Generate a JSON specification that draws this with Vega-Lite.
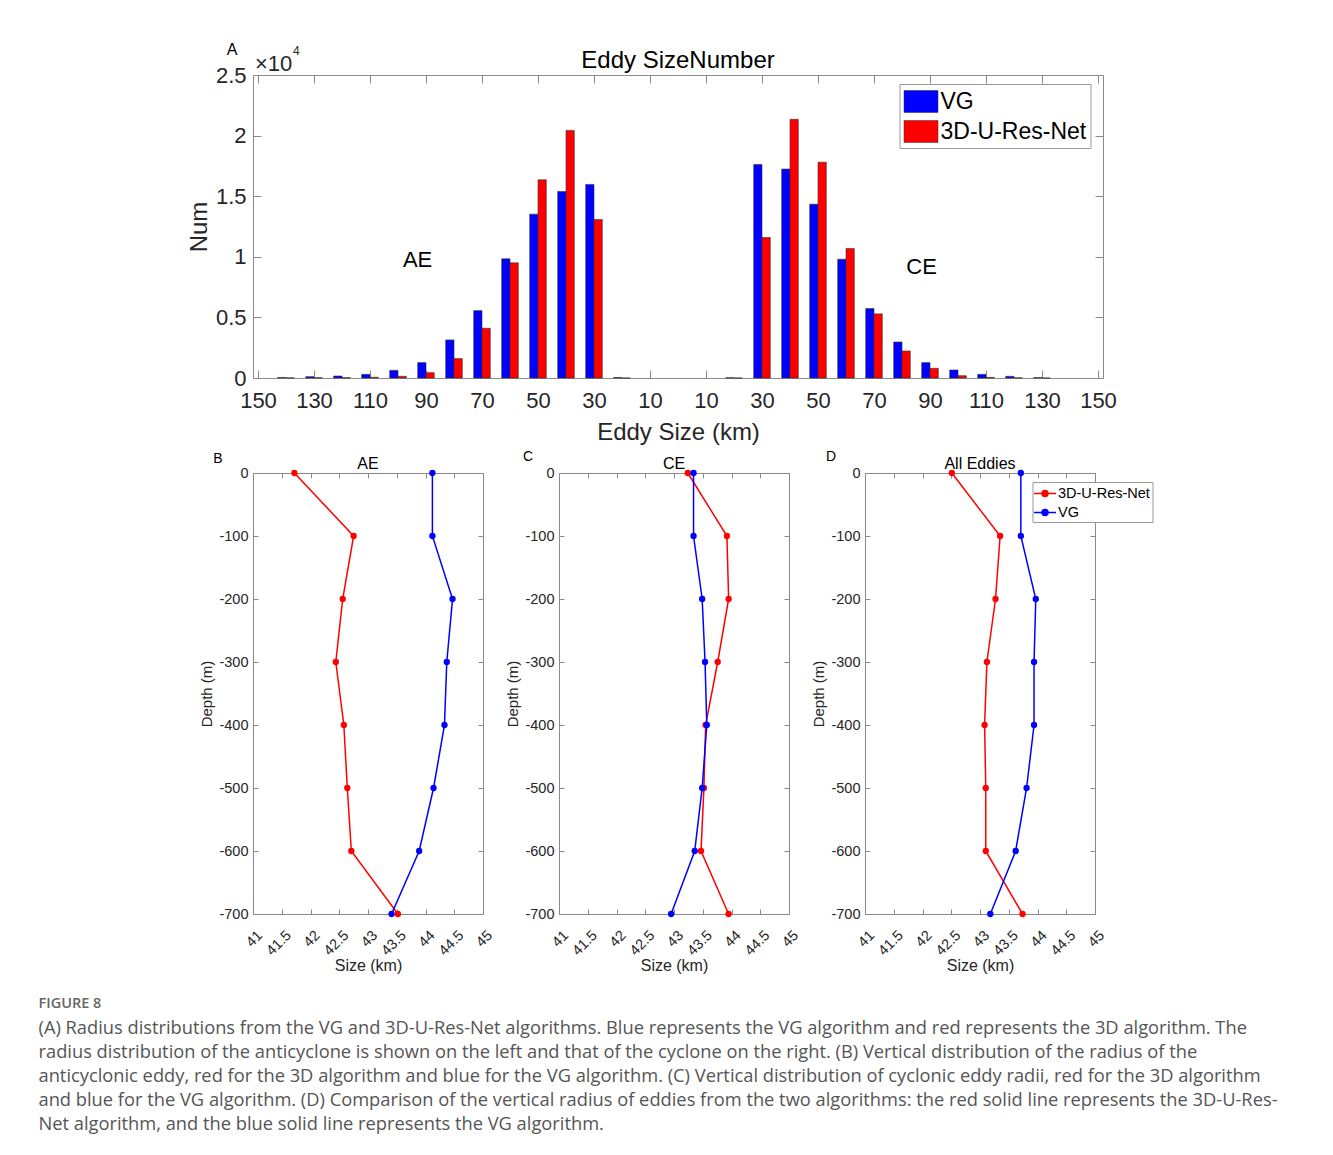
{
  "$schema": "https://vega.github.io/schema/vega-lite/v6.json",
  "padding": {"left": 38, "top": 41, "right": 5, "bottom": 5},
  "background": "white",
  "datasets": {
    "bars": [
      {"type": "AE", "size": -140, "alg": "VG", "num": 40},
      {"type": "AE", "size": -140, "alg": "3D-U-Res-Net", "num": 10},
      {"type": "AE", "size": -130, "alg": "VG", "num": 110},
      {"type": "AE", "size": -130, "alg": "3D-U-Res-Net", "num": 20},
      {"type": "AE", "size": -120, "alg": "VG", "num": 165},
      {"type": "AE", "size": -120, "alg": "3D-U-Res-Net", "num": 30},
      {"type": "AE", "size": -110, "alg": "VG", "num": 300},
      {"type": "AE", "size": -110, "alg": "3D-U-Res-Net", "num": 60},
      {"type": "AE", "size": -100, "alg": "VG", "num": 630},
      {"type": "AE", "size": -100, "alg": "3D-U-Res-Net", "num": 140},
      {"type": "AE", "size": -90, "alg": "VG", "num": 1270},
      {"type": "AE", "size": -90, "alg": "3D-U-Res-Net", "num": 440},
      {"type": "AE", "size": -80, "alg": "VG", "num": 3140},
      {"type": "AE", "size": -80, "alg": "3D-U-Res-Net", "num": 1600},
      {"type": "AE", "size": -70, "alg": "VG", "num": 5560},
      {"type": "AE", "size": -70, "alg": "3D-U-Res-Net", "num": 4100},
      {"type": "AE", "size": -60, "alg": "VG", "num": 9830},
      {"type": "AE", "size": -60, "alg": "3D-U-Res-Net", "num": 9500},
      {"type": "AE", "size": -50, "alg": "VG", "num": 13520},
      {"type": "AE", "size": -50, "alg": "3D-U-Res-Net", "num": 16350},
      {"type": "AE", "size": -40, "alg": "VG", "num": 15390},
      {"type": "AE", "size": -40, "alg": "3D-U-Res-Net", "num": 20430},
      {"type": "AE", "size": -30, "alg": "VG", "num": 15970},
      {"type": "AE", "size": -30, "alg": "3D-U-Res-Net", "num": 13080},
      {"type": "AE", "size": -20, "alg": "VG", "num": 40},
      {"type": "AE", "size": -20, "alg": "3D-U-Res-Net", "num": 0},
      {"type": "CE", "size": 20, "alg": "VG", "num": 20},
      {"type": "CE", "size": 20, "alg": "3D-U-Res-Net", "num": 0},
      {"type": "CE", "size": 30, "alg": "VG", "num": 17620},
      {"type": "CE", "size": 30, "alg": "3D-U-Res-Net", "num": 11590},
      {"type": "CE", "size": 40, "alg": "VG", "num": 17240},
      {"type": "CE", "size": 40, "alg": "3D-U-Res-Net", "num": 21340},
      {"type": "CE", "size": 50, "alg": "VG", "num": 14340},
      {"type": "CE", "size": 50, "alg": "3D-U-Res-Net", "num": 17810},
      {"type": "CE", "size": 60, "alg": "VG", "num": 9800},
      {"type": "CE", "size": 60, "alg": "3D-U-Res-Net", "num": 10680},
      {"type": "CE", "size": 70, "alg": "VG", "num": 5730},
      {"type": "CE", "size": 70, "alg": "3D-U-Res-Net", "num": 5290},
      {"type": "CE", "size": 80, "alg": "VG", "num": 2970},
      {"type": "CE", "size": 80, "alg": "3D-U-Res-Net", "num": 2230},
      {"type": "CE", "size": 90, "alg": "VG", "num": 1270},
      {"type": "CE", "size": 90, "alg": "3D-U-Res-Net", "num": 800},
      {"type": "CE", "size": 100, "alg": "VG", "num": 660},
      {"type": "CE", "size": 100, "alg": "3D-U-Res-Net", "num": 190},
      {"type": "CE", "size": 110, "alg": "VG", "num": 300},
      {"type": "CE", "size": 110, "alg": "3D-U-Res-Net", "num": 50},
      {"type": "CE", "size": 120, "alg": "VG", "num": 140},
      {"type": "CE", "size": 120, "alg": "3D-U-Res-Net", "num": 15},
      {"type": "CE", "size": 130, "alg": "VG", "num": 30},
      {"type": "CE", "size": 130, "alg": "3D-U-Res-Net", "num": 0}
    ],
    "profiles": [
      {"panel": "AE", "alg": "3D-U-Res-Net", "depth": 0, "size": 41.72},
      {"panel": "AE", "alg": "3D-U-Res-Net", "depth": -100, "size": 42.75},
      {"panel": "AE", "alg": "3D-U-Res-Net", "depth": -200, "size": 42.56},
      {"panel": "AE", "alg": "3D-U-Res-Net", "depth": -300, "size": 42.44},
      {"panel": "AE", "alg": "3D-U-Res-Net", "depth": -400, "size": 42.58},
      {"panel": "AE", "alg": "3D-U-Res-Net", "depth": -500, "size": 42.64},
      {"panel": "AE", "alg": "3D-U-Res-Net", "depth": -600, "size": 42.71},
      {"panel": "AE", "alg": "3D-U-Res-Net", "depth": -700, "size": 43.52},
      {"panel": "AE", "alg": "VG", "depth": 0, "size": 44.12},
      {"panel": "AE", "alg": "VG", "depth": -100, "size": 44.12},
      {"panel": "AE", "alg": "VG", "depth": -200, "size": 44.47},
      {"panel": "AE", "alg": "VG", "depth": -300, "size": 44.37},
      {"panel": "AE", "alg": "VG", "depth": -400, "size": 44.33},
      {"panel": "AE", "alg": "VG", "depth": -500, "size": 44.14},
      {"panel": "AE", "alg": "VG", "depth": -600, "size": 43.89},
      {"panel": "AE", "alg": "VG", "depth": -700, "size": 43.41},
      {"panel": "CE", "alg": "3D-U-Res-Net", "depth": 0, "size": 43.24},
      {"panel": "CE", "alg": "3D-U-Res-Net", "depth": -100, "size": 43.92},
      {"panel": "CE", "alg": "3D-U-Res-Net", "depth": -200, "size": 43.95},
      {"panel": "CE", "alg": "3D-U-Res-Net", "depth": -300, "size": 43.76},
      {"panel": "CE", "alg": "3D-U-Res-Net", "depth": -400, "size": 43.55},
      {"panel": "CE", "alg": "3D-U-Res-Net", "depth": -500, "size": 43.52},
      {"panel": "CE", "alg": "3D-U-Res-Net", "depth": -600, "size": 43.47},
      {"panel": "CE", "alg": "3D-U-Res-Net", "depth": -700, "size": 43.95},
      {"panel": "CE", "alg": "VG", "depth": 0, "size": 43.34},
      {"panel": "CE", "alg": "VG", "depth": -100, "size": 43.34},
      {"panel": "CE", "alg": "VG", "depth": -200, "size": 43.49},
      {"panel": "CE", "alg": "VG", "depth": -300, "size": 43.54},
      {"panel": "CE", "alg": "VG", "depth": -400, "size": 43.57},
      {"panel": "CE", "alg": "VG", "depth": -500, "size": 43.49},
      {"panel": "CE", "alg": "VG", "depth": -600, "size": 43.36},
      {"panel": "CE", "alg": "VG", "depth": -700, "size": 42.95},
      {"panel": "All", "alg": "3D-U-Res-Net", "depth": 0, "size": 42.51},
      {"panel": "All", "alg": "3D-U-Res-Net", "depth": -100, "size": 43.35},
      {"panel": "All", "alg": "3D-U-Res-Net", "depth": -200, "size": 43.27},
      {"panel": "All", "alg": "3D-U-Res-Net", "depth": -300, "size": 43.12},
      {"panel": "All", "alg": "3D-U-Res-Net", "depth": -400, "size": 43.08},
      {"panel": "All", "alg": "3D-U-Res-Net", "depth": -500, "size": 43.10},
      {"panel": "All", "alg": "3D-U-Res-Net", "depth": -600, "size": 43.10},
      {"panel": "All", "alg": "3D-U-Res-Net", "depth": -700, "size": 43.74},
      {"panel": "All", "alg": "VG", "depth": 0, "size": 43.71},
      {"panel": "All", "alg": "VG", "depth": -100, "size": 43.71},
      {"panel": "All", "alg": "VG", "depth": -200, "size": 43.97},
      {"panel": "All", "alg": "VG", "depth": -300, "size": 43.94},
      {"panel": "All", "alg": "VG", "depth": -400, "size": 43.94},
      {"panel": "All", "alg": "VG", "depth": -500, "size": 43.81},
      {"panel": "All", "alg": "VG", "depth": -600, "size": 43.62},
      {"panel": "All", "alg": "VG", "depth": -700, "size": 43.18}
    ]
  },
  "title": {
    "text": "FIGURE 8",
    "subtitle": [
      "(A) Radius distributions from the VG and 3D-U-Res-Net algorithms. Blue represents the VG algorithm and red represents the 3D algorithm. The",
      "radius distribution of the anticyclone is shown on the left and that of the cyclone on the right. (B) Vertical distribution of the radius of the",
      "anticyclonic eddy, red for the 3D algorithm and blue for the VG algorithm. (C) Vertical distribution of cyclonic eddy radii, red for the 3D algorithm",
      "and blue for the VG algorithm. (D) Comparison of the vertical radius of eddies from the two algorithms: the red solid line represents the 3D-U-Res-",
      "Net algorithm, and the blue solid line represents the VG algorithm."
    ],
    "orient": "bottom",
    "anchor": "start",
    "frame": "group",
    "dx": -214.5,
    "offset": 23,
    "font": "Open Sans",
    "fontSize": 14.5,
    "fontWeight": 600,
    "color": "#666666",
    "subtitleFont": "Open Sans",
    "subtitleFontSize": 18.3,
    "subtitleColor": "#555555",
    "subtitleLineHeight": 24,
    "subtitlePadding": 8
  },
  "vconcat": [
    {
      "width": 850,
      "height": 303,
      "data": {"name": "bars"},
      "layer": [
        {
          "transform": [{"filter": "datum.alg === 'VG'"}],
          "mark": {"type": "bar", "orient": "vertical", "width": 8.3, "xOffset": -4.15, "stroke": "#303030", "strokeWidth": 0.6},
          "encoding": {
            "x": {"field": "size", "type": "quantitative", "scale": {"domain": [-150, 150], "nice": false, "zero": false},
              "axis": {"orient": "bottom", "values": [-150, -130, -110, -90, -70, -50, -30, -10, 10, 30, 50, 70, 90, 110, 130, 150], "labelExpr": "'' + abs(datum.value)", "labelFontSize": 22, "labelPadding": 20.5, "labelOverlap": false, "tickSize": -8, "title": "Eddy Size (km)", "titleFontSize": 24, "titlePadding": 9}},
            "y": {"field": "num", "type": "quantitative", "stack": null, "scale": {"domain": [0, 25000], "nice": false},
              "axis": {"orient": "left", "values": [0, 5000, 10000, 15000, 20000, 25000], "labelExpr": "'' + (datum.value / 10000)", "labelFontSize": 22, "labelPadding": 15, "labelOverlap": false, "tickSize": -8, "title": "Num", "titleFontSize": 24, "titlePadding": 4}},
            "color": {"field": "alg", "type": "nominal", "scale": {"domain": ["VG", "3D-U-Res-Net"], "range": ["#0000ff", "#ff0000"]},
              "legend": {"orient": "none", "legendX": 646.5, "legendY": 9, "title": null, "labelFontSize": 23, "labelColor": "#000000", "symbolType": "M-1.3077,-0.846H1.3077V0.846H-1.3077Z", "symbolSize": 676, "symbolOffset": 4, "symbolStrokeColor": "#333333", "symbolStrokeWidth": 0.5, "symbolOpacity": 1, "fillColor": "#ffffff", "strokeColor": "#999999", "padding": 4, "rowPadding": 4, "labelOffset": 6}}
          }
        },
        {
          "transform": [{"filter": "datum.alg === '3D-U-Res-Net'"}],
          "mark": {"type": "bar", "orient": "vertical", "width": 8.3, "xOffset": 4.15, "stroke": "#303030", "strokeWidth": 0.6},
          "encoding": {
            "x": {"field": "size", "type": "quantitative",
              "axis": {"orient": "top", "values": [-150, -130, -110, -90, -70, -50, -30, -10, 10, 30, 50, 70, 90, 110, 130, 150], "labels": false, "tickSize": -8, "title": null}},
            "y": {"field": "num", "type": "quantitative", "stack": null,
              "axis": {"orient": "right", "values": [0, 5000, 10000, 15000, 20000, 25000], "labels": false, "tickSize": -8, "title": null}},
            "color": {"field": "alg", "type": "nominal", "scale": {"domain": ["VG", "3D-U-Res-Net"], "range": ["#0000ff", "#ff0000"]},
              "legend": {"orient": "none", "legendX": 646.5, "legendY": 9, "title": null, "labelFontSize": 23, "labelColor": "#000000", "symbolType": "M-1.3077,-0.846H1.3077V0.846H-1.3077Z", "symbolSize": 676, "symbolOffset": 4, "symbolStrokeColor": "#333333", "symbolStrokeWidth": 0.5, "symbolOpacity": 1, "fillColor": "#ffffff", "strokeColor": "#999999", "padding": 4, "rowPadding": 4, "labelOffset": 6}}
          }
        },
        {
          "data": {"values": [{}]},
          "mark": {"type": "text", "text": "Eddy SizeNumber", "fontSize": 24, "color": "#000000", "baseline": "alphabetic", "dy": -7},
          "encoding": {"x": {"datum": 0, "type": "quantitative", "axis": null}, "y": {"datum": 25000, "type": "quantitative", "axis": null}}
        },
        {
          "data": {"values": [{}]},
          "mark": {"type": "text", "text": "AE", "fontSize": 22, "color": "#000000"},
          "encoding": {"x": {"datum": -93, "type": "quantitative", "axis": null}, "y": {"datum": 9720, "type": "quantitative", "axis": null}}
        },
        {
          "data": {"values": [{}]},
          "mark": {"type": "text", "text": "CE", "fontSize": 22, "color": "#000000"},
          "encoding": {"x": {"datum": 87, "type": "quantitative", "axis": null}, "y": {"datum": 9140, "type": "quantitative", "axis": null}}
        },
        {
          "data": {"values": [{}]},
          "mark": {"type": "text", "text": "A", "fontSize": 16, "color": "#000000", "dx": -26, "dy": -25},
          "encoding": {"x": {"datum": -150, "type": "quantitative", "axis": null}, "y": {"datum": 25000, "type": "quantitative", "axis": null}}
        },
        {
          "data": {"values": [{}]},
          "mark": {"type": "text", "text": "×10", "fontSize": 22, "color": "#262626", "align": "left", "baseline": "bottom", "dx": -3, "dy": 1},
          "encoding": {"x": {"datum": -150, "type": "quantitative", "axis": null}, "y": {"datum": 25000, "type": "quantitative", "axis": null}}
        },
        {
          "data": {"values": [{}]},
          "mark": {"type": "text", "text": "4", "fontSize": 12, "color": "#262626", "align": "left", "baseline": "bottom", "dx": 35, "dy": -17},
          "encoding": {"x": {"datum": -150, "type": "quantitative", "axis": null}, "y": {"datum": 25000, "type": "quantitative", "axis": null}}
        }
      ],
      "resolve": {"axis": {"x": "independent", "y": "independent"}}
    },
    {
      "hconcat": [
        {
          "width": 230,
          "height": 441,
          "data": {"name": "profiles"},
          "layer": [
            {
              "transform": [{"filter": "datum.panel === 'AE'"}],
              "mark": {"type": "line", "strokeWidth": 1.5},
              "encoding": {
                "x": {"field": "size", "type": "quantitative", "scale": {"domain": [41, 45], "nice": false, "zero": false},
                  "axis": {"orient": "bottom", "values": [41, 41.5, 42, 42.5, 43, 43.5, 44, 44.5, 45], "labelExpr": "'' + datum.value", "labelAngle": -45, "labelAlign": "right", "labelBaseline": "top", "labelOverlap": false, "labelFontSize": 14.5, "labelPadding": 19, "labelOffset": 2, "tickSize": -5, "title": "Size (km)", "titleFontSize": 16, "titlePadding": 0}},
                "y": {"field": "depth", "type": "quantitative", "scale": {"domain": [-700, 0], "nice": false, "zero": false},
                  "axis": {"orient": "left", "values": [-700, -600, -500, -400, -300, -200, -100, 0], "labelExpr": "'' + datum.value", "labelOverlap": false, "labelFontSize": 14.5, "labelPadding": 10, "tickSize": -5, "title": "Depth (m)", "titleFontSize": 15, "titlePadding": 4}},
                "color": {"field": "alg", "type": "nominal", "scale": {"domain": ["3D-U-Res-Net", "VG"], "range": ["#ff0000", "#0000ff"]}, "legend": null},
                "order": {"field": "depth", "sort": "descending"}
              }
            },
            {
              "transform": [{"filter": "datum.panel === 'AE'"}],
              "mark": {"type": "point", "filled": true, "size": 40, "opacity": 1},
              "encoding": {
                "x": {"field": "size", "type": "quantitative", "axis": {"orient": "top", "values": [41, 41.5, 42, 42.5, 43, 43.5, 44, 44.5, 45], "labels": false, "tickSize": -5, "title": null}},
                "y": {"field": "depth", "type": "quantitative", "axis": {"orient": "right", "values": [-700, -600, -500, -400, -300, -200, -100, 0], "labels": false, "tickSize": -5, "title": null}},
                "color": {"field": "alg", "type": "nominal", "scale": {"domain": ["3D-U-Res-Net", "VG"], "range": ["#ff0000", "#0000ff"]}, "legend": null}
              }
            },
            {
              "data": {"values": [{}]},
              "mark": {"type": "text", "text": "AE", "fontSize": 16, "color": "#000000", "baseline": "alphabetic", "dy": -4.5},
              "encoding": {"x": {"datum": 43, "type": "quantitative", "axis": null}, "y": {"datum": 0, "type": "quantitative", "axis": null}}
            },
            {
              "data": {"values": [{}]},
              "mark": {"type": "text", "text": "B", "fontSize": 14, "color": "#000000", "dx": -35, "dy": -14},
              "encoding": {"x": {"datum": 41, "type": "quantitative", "axis": null}, "y": {"datum": 0, "type": "quantitative", "axis": null}}
            }
          ],
          "resolve": {"axis": {"x": "independent", "y": "independent"}}
        },
        {
          "width": 230,
          "height": 441,
          "data": {"name": "profiles"},
          "layer": [
            {
              "transform": [{"filter": "datum.panel === 'CE'"}],
              "mark": {"type": "line", "strokeWidth": 1.5},
              "encoding": {
                "x": {"field": "size", "type": "quantitative", "scale": {"domain": [41, 45], "nice": false, "zero": false},
                  "axis": {"orient": "bottom", "values": [41, 41.5, 42, 42.5, 43, 43.5, 44, 44.5, 45], "labelExpr": "'' + datum.value", "labelAngle": -45, "labelAlign": "right", "labelBaseline": "top", "labelOverlap": false, "labelFontSize": 14.5, "labelPadding": 19, "labelOffset": 2, "tickSize": -5, "title": "Size (km)", "titleFontSize": 16, "titlePadding": 0}},
                "y": {"field": "depth", "type": "quantitative", "scale": {"domain": [-700, 0], "nice": false, "zero": false},
                  "axis": {"orient": "left", "values": [-700, -600, -500, -400, -300, -200, -100, 0], "labelExpr": "'' + datum.value", "labelOverlap": false, "labelFontSize": 14.5, "labelPadding": 10, "tickSize": -5, "title": "Depth (m)", "titleFontSize": 15, "titlePadding": 4}},
                "color": {"field": "alg", "type": "nominal", "scale": {"domain": ["3D-U-Res-Net", "VG"], "range": ["#ff0000", "#0000ff"]}, "legend": null},
                "order": {"field": "depth", "sort": "descending"}
              }
            },
            {
              "transform": [{"filter": "datum.panel === 'CE'"}],
              "mark": {"type": "point", "filled": true, "size": 40, "opacity": 1},
              "encoding": {
                "x": {"field": "size", "type": "quantitative", "axis": {"orient": "top", "values": [41, 41.5, 42, 42.5, 43, 43.5, 44, 44.5, 45], "labels": false, "tickSize": -5, "title": null}},
                "y": {"field": "depth", "type": "quantitative", "axis": {"orient": "right", "values": [-700, -600, -500, -400, -300, -200, -100, 0], "labels": false, "tickSize": -5, "title": null}},
                "color": {"field": "alg", "type": "nominal", "scale": {"domain": ["3D-U-Res-Net", "VG"], "range": ["#ff0000", "#0000ff"]}, "legend": null}
              }
            },
            {
              "data": {"values": [{}]},
              "mark": {"type": "text", "text": "CE", "fontSize": 16, "color": "#000000", "baseline": "alphabetic", "dy": -4.5},
              "encoding": {"x": {"datum": 43, "type": "quantitative", "axis": null}, "y": {"datum": 0, "type": "quantitative", "axis": null}}
            },
            {
              "data": {"values": [{}]},
              "mark": {"type": "text", "text": "C", "fontSize": 14, "color": "#000000", "dx": -31, "dy": -16},
              "encoding": {"x": {"datum": 41, "type": "quantitative", "axis": null}, "y": {"datum": 0, "type": "quantitative", "axis": null}}
            }
          ],
          "resolve": {"axis": {"x": "independent", "y": "independent"}}
        },
        {
          "width": 230,
          "height": 441,
          "data": {"name": "profiles"},
          "layer": [
            {
              "transform": [{"filter": "datum.panel === 'All'"}],
              "mark": {"type": "line", "strokeWidth": 1.5},
              "encoding": {
                "x": {"field": "size", "type": "quantitative", "scale": {"domain": [41, 45], "nice": false, "zero": false},
                  "axis": {"orient": "bottom", "values": [41, 41.5, 42, 42.5, 43, 43.5, 44, 44.5, 45], "labelExpr": "'' + datum.value", "labelAngle": -45, "labelAlign": "right", "labelBaseline": "top", "labelOverlap": false, "labelFontSize": 14.5, "labelPadding": 19, "labelOffset": 2, "tickSize": -5, "title": "Size (km)", "titleFontSize": 16, "titlePadding": 0}},
                "y": {"field": "depth", "type": "quantitative", "scale": {"domain": [-700, 0], "nice": false, "zero": false},
                  "axis": {"orient": "left", "values": [-700, -600, -500, -400, -300, -200, -100, 0], "labelExpr": "'' + datum.value", "labelOverlap": false, "labelFontSize": 14.5, "labelPadding": 10, "tickSize": -5, "title": "Depth (m)", "titleFontSize": 15, "titlePadding": 4}},
                "color": {"field": "alg", "type": "nominal", "scale": {"domain": ["3D-U-Res-Net", "VG"], "range": ["#ff0000", "#0000ff"]},
                  "legend": {"orient": "none", "legendX": 167.5, "legendY": 9, "title": null, "labelFontSize": 14.5, "labelColor": "#000000", "symbolType": "M-1.375,0H1.375M-0.375,0A0.375,0.375 0 1,0 0.375,0A0.375,0.375 0 1,0 -0.375,0Z", "symbolSize": 256, "symbolOffset": 1, "symbolStrokeWidth": 1.5, "fillColor": "#ffffff", "strokeColor": "#999999", "padding": 2.5, "rowPadding": 3, "labelOffset": 4}},
                "order": {"field": "depth", "sort": "descending"}
              }
            },
            {
              "transform": [{"filter": "datum.panel === 'All'"}],
              "mark": {"type": "point", "filled": true, "size": 40, "opacity": 1},
              "encoding": {
                "x": {"field": "size", "type": "quantitative", "axis": {"orient": "top", "values": [41, 41.5, 42, 42.5, 43, 43.5, 44, 44.5, 45], "labels": false, "tickSize": -5, "title": null}},
                "y": {"field": "depth", "type": "quantitative", "axis": {"orient": "right", "values": [-700, -600, -500, -400, -300, -200, -100, 0], "labels": false, "tickSize": -5, "title": null}},
                "color": {"field": "alg", "type": "nominal", "scale": {"domain": ["3D-U-Res-Net", "VG"], "range": ["#ff0000", "#0000ff"]},
                  "legend": {"orient": "none", "legendX": 167.5, "legendY": 9, "title": null, "labelFontSize": 14.5, "labelColor": "#000000", "symbolType": "M-1.375,0H1.375M-0.375,0A0.375,0.375 0 1,0 0.375,0A0.375,0.375 0 1,0 -0.375,0Z", "symbolSize": 256, "symbolOffset": 1, "symbolStrokeWidth": 1.5, "fillColor": "#ffffff", "strokeColor": "#999999", "padding": 2.5, "rowPadding": 3, "labelOffset": 4}}
              }
            },
            {
              "data": {"values": [{}]},
              "mark": {"type": "text", "text": "All Eddies", "fontSize": 16, "color": "#000000", "baseline": "alphabetic", "dy": -4.5},
              "encoding": {"x": {"datum": 43, "type": "quantitative", "axis": null}, "y": {"datum": 0, "type": "quantitative", "axis": null}}
            },
            {
              "data": {"values": [{}]},
              "mark": {"type": "text", "text": "D", "fontSize": 14, "color": "#000000", "dx": -34, "dy": -16},
              "encoding": {"x": {"datum": 41, "type": "quantitative", "axis": null}, "y": {"datum": 0, "type": "quantitative", "axis": null}}
            }
          ],
          "resolve": {"axis": {"x": "independent", "y": "independent"}}
        }
      ],
      "bounds": "flush",
      "spacing": 76,
      "resolve": {"scale": {"color": "independent"}, "legend": {"color": "independent"}}
    }
  ],
  "bounds": "flush",
  "spacing": 95,
  "resolve": {"scale": {"color": "independent"}, "legend": {"color": "independent"}},
  "config": {
    "font": "Liberation Sans",
    "view": {"stroke": "#8a8a8a", "strokeWidth": 1},
    "axis": {"domain": false, "grid": false, "tickColor": "#8a8a8a", "tickWidth": 1, "labelColor": "#262626", "titleColor": "#262626", "titleFontWeight": "normal", "labelFont": "Liberation Sans", "titleFont": "Liberation Sans"}
  }
}
